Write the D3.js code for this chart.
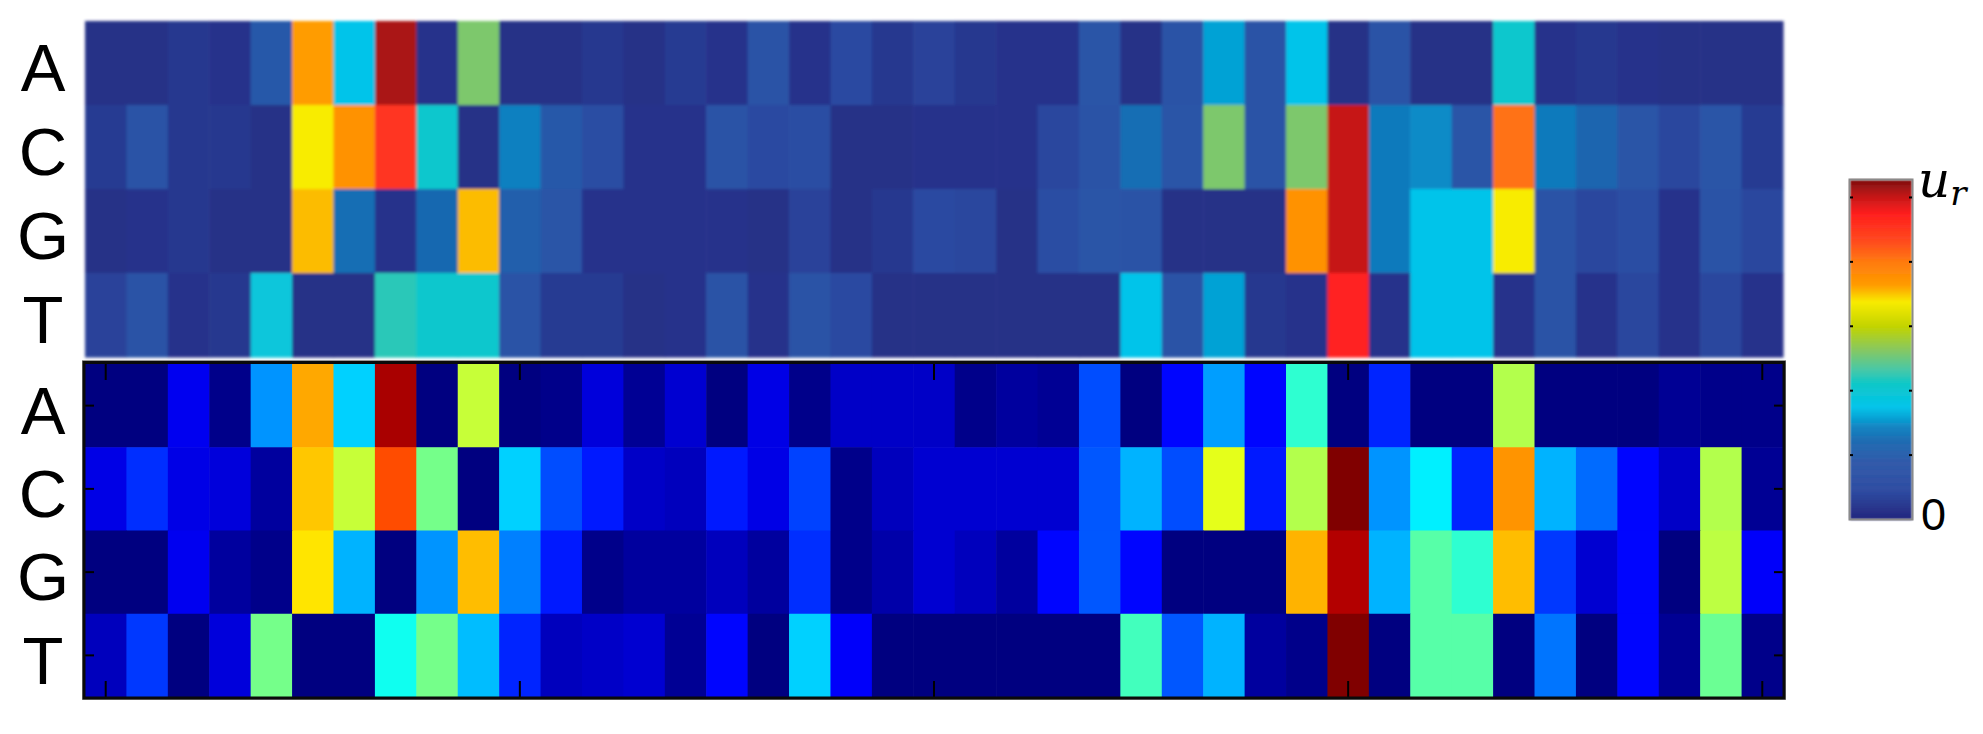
<!DOCTYPE html>
<html>
<head>
<meta charset="utf-8">
<script src="https://cdn.jsdelivr.net/npm/d3@7"></script>
<style>
  html, body { margin: 0; padding: 0; background: #fff; }
  svg { display: block; }
</style>
</head>
<body>
<div id="chart"></div>
<script>
// row labels and sequence positions
const bases = ['A', 'C', 'G', 'T']
const positions = d3.range(1, 42)
const xTickValues = [1, 11, 21, 31, 41]

// top panel (smooth colormap, see colorbar)
const topA = [0.02,0.02,0.04,0.03,0.18,0.69,0.33,0.97,0.03,0.49,0.02,0.02,0.04,0.02,0.05,
              0.03,0.15,0.03,0.10,0.04,0.07,0.04,0.03,0.03,0.16,0.02,0.15,0.30,0.15,0.33,0.02,
              0.15,0.02,0.02,0.39,0.03,0.04,0.03,0.02,0.02,0.02]
const topC = [0.05,0.15,0.04,0.04,0.02,0.64,0.71,0.86,0.39,0.02,0.27,0.18,0.12,0.03,0.03,
              0.15,0.10,0.12,0.02,0.02,0.03,0.03,0.03,0.08,0.15,0.24,0.16,0.49,0.15,0.49,0.95,
              0.26,0.28,0.16,0.77,0.26,0.22,0.16,0.08,0.16,0.05]
const topG = [0.02,0.03,0.04,0.02,0.02,0.67,0.24,0.03,0.23,0.67,0.20,0.16,0.03,0.03,0.03,
              0.03,0.02,0.07,0.02,0.04,0.10,0.08,0.02,0.12,0.16,0.15,0.02,0.02,0.02,0.71,0.95,
              0.26,0.33,0.33,0.64,0.15,0.08,0.12,0.03,0.15,0.08]
const topT = [0.07,0.15,0.03,0.04,0.36,0.02,0.02,0.42,0.39,0.39,0.15,0.05,0.05,0.02,0.03,
              0.15,0.03,0.15,0.10,0.02,0.02,0.02,0.02,0.02,0.02,0.33,0.15,0.30,0.04,0.03,0.90,
              0.03,0.33,0.33,0.03,0.15,0.03,0.08,0.03,0.08,0.03]

// bottom panel (jet)
const botA = [0,0,0.11,0.01,0.27,0.71,0.33,0.96,0,0.57,0,0.01,0.09,0.02,0.08,
              0,0.10,0.01,0.07,0.07,0.07,0.01,0.03,0.02,0.20,0,0.13,0.28,0.13,0.42,0,
              0.16,0,0,0.55,0,0,0,0.02,0.01,0.01]
const botC = [0.10,0.17,0.10,0.09,0.03,0.68,0.57,0.80,0.49,0,0.33,0.20,0.15,0.07,0.06,
              0.15,0.10,0.19,0.01,0.06,0.08,0.08,0.08,0.08,0.21,0.30,0.20,0.60,0.15,0.55,1.0,
              0.27,0.36,0.16,0.73,0.30,0.23,0.13,0.07,0.55,0.02]
const botG = [0,0,0.11,0.03,0.01,0.65,0.30,0,0.27,0.69,0.25,0.15,0.01,0.03,0.03,
              0.06,0.03,0.17,0.01,0.04,0.08,0.06,0.03,0.13,0.21,0.13,0,0,0,0.70,0.95,
              0.30,0.46,0.42,0.69,0.18,0.08,0.13,0,0.56,0.12]
const botT = [0.06,0.18,0,0.09,0.49,0,0,0.39,0.49,0.31,0.16,0.06,0.07,0.08,0.02,
              0.13,0,0.33,0.12,0,0,0,0,0,0,0.44,0.21,0.30,0.03,0.01,1.0,
              0,0.46,0.46,0,0.24,0,0.13,0.02,0.48,0.01]

const topRows = [topA, topC, topG, topT]
const botRows = [botA, botC, botG, botT]

var W = 1983, H = 734
var svg = d3.select('#chart').append('svg')
  .attr('width', W).attr('height', H)

var defs = svg.append('defs')
defs.append('filter').attr('id', 'soft')
  .attr('x', '-1%').attr('y', '-2%').attr('width', '102%').attr('height', '104%')
  .append('feGaussianBlur').attr('stdDeviation', 1.6)
defs.append('filter').attr('id', 'soft2')
  .append('feGaussianBlur').attr('stdDeviation', 0.8)

// colour scales
var topColor = d3.scaleLinear()
  .domain([0, 0.085, 0.17, 0.23, 0.27, 0.33, 0.40, 0.44, 0.50, 0.57, 0.64, 0.69, 0.76, 0.82, 0.90, 0.955, 1])
  .range(['#23287f', '#2a48a0', '#2a56a8', '#1868b0', '#0a80c0', '#00c4ea', '#10c8c8', '#48c8a8',
          '#88c860', '#c4d400', '#f8ec00', '#ff9c00', '#ff7a10', '#ff4a20', '#ff2020', '#c01818', '#7f1010'])
  .interpolate(d3.interpolateRgb)
var jet = d3.scaleLinear()
  .domain([0, 0.125, 0.375, 0.625, 0.875, 1])
  .range(['#000080', '#0000ff', '#00ffff', '#ffff00', '#ff0000', '#800000'])
  .interpolate(d3.interpolateRgb)

// position scales
var x = d3.scaleBand().domain(positions).range([85, 1783])
var yTop = d3.scaleBand().domain(bases).range([21, 357])
var yBot = d3.scaleBand().domain(bases).range([364, 697])

function cells(rows) {
  var out = []
  rows.forEach(function(r, i) {
    r.forEach(function(v, j) { out.push({ base: bases[i], pos: positions[j], v: v }) })
  })
  return out
}

// top heatmap (blurred like the original)
svg.append('g').attr('filter', 'url(#soft)')
  .selectAll('rect').data(cells(topRows)).enter().append('rect')
  .attr('x', function(d) { return x(d.pos) })
  .attr('y', function(d) { return yTop(d.base) })
  .attr('width', x.bandwidth() + 0.6)
  .attr('height', yTop.bandwidth() + 0.6)
  .attr('fill', function(d) { return topColor(d.v) })

// bottom heatmap
var bot = svg.append('g')
bot.selectAll('rect').data(cells(botRows)).enter().append('rect')
  .attr('x', function(d) { return x(d.pos) })
  .attr('y', function(d) { return yBot(d.base) })
  .attr('width', x.bandwidth() + 0.6)
  .attr('height', yBot.bandwidth() + 0.6)
  .attr('fill', function(d) { return jet(d.v) })

// inward ticks on the bottom panel
function inward(g) {
  g.select('.domain').remove()
  g.selectAll('text').remove()
  g.selectAll('line').attr('stroke', '#000').attr('stroke-width', 2)
}
svg.append('g').attr('transform', 'translate(0,697)')
  .call(d3.axisBottom(x).tickValues(xTickValues).tickSize(-16)).call(inward)
svg.append('g').attr('transform', 'translate(0,364)')
  .call(d3.axisTop(x).tickValues(xTickValues).tickSize(-16)).call(inward)
svg.append('g').attr('transform', 'translate(85,0)')
  .call(d3.axisLeft(yBot).tickSize(-9)).call(inward)
svg.append('g').attr('transform', 'translate(1783,0)')
  .call(d3.axisRight(yBot).tickSize(-9)).call(inward)

// frame
svg.append('rect').attr('x', 82.5).attr('y', 360.5).attr('width', 1703).attr('height', 339)
  .attr('fill', 'none').attr('stroke', '#999').attr('stroke-width', 1)
svg.append('rect').attr('x', 84).attr('y', 362.5).attr('width', 1700).attr('height', 335.5)
  .attr('fill', 'none').attr('stroke', '#0a0a0a').attr('stroke-width', 3)

// row labels
;[yTop, yBot].forEach(function(ys) {
  svg.append('g').selectAll('text').data(bases).enter().append('text')
    .attr('x', 43)
    .attr('y', function(d) { return ys(d) + ys.bandwidth() / 2 })
    .attr('dy', '0.42em')
    .attr('text-anchor', 'middle')
    .attr('font-family', '"Liberation Sans", Arial, sans-serif')
    .attr('font-size', 67)
    .attr('fill', '#000')
    .text(function(d) { return d })
})

// colorbar
var cb = d3.scaleLinear().domain([0, 1]).range([519, 180])
var steps = d3.range(0, 1, 1 / 340)
svg.append('g').attr('filter', 'url(#soft2)')
  .selectAll('rect').data(steps).enter().append('rect')
  .attr('x', 1850).attr('width', 62)
  .attr('y', function(d) { return cb(d + 1 / 340) })
  .attr('height', 1.6)
  .attr('fill', function(d) { return topColor(d) })
svg.append('rect').attr('x', 1849.5).attr('y', 179.5).attr('width', 63).attr('height', 340)
  .attr('fill', 'none').attr('stroke', '#8a8a8a').attr('stroke-width', 2)
var cbTicks = [0.19, 0.38, 0.57, 0.76, 0.95]
svg.append('g').attr('transform', 'translate(1850,0)')
  .call(d3.axisLeft(cb).tickValues(cbTicks).tickSize(-3)).call(inward)
svg.append('g').attr('transform', 'translate(1912,0)')
  .call(d3.axisRight(cb).tickValues(cbTicks).tickSize(-3)).call(inward)

var ur = svg.append('text').attr('x', 1918).attr('y', 197)
  .attr('font-family', '"DejaVu Serif", "Liberation Serif", serif')
  .attr('font-style', 'italic').attr('font-size', 50).attr('fill', '#000')
ur.append('tspan').text('u')
ur.append('tspan').attr('font-size', 34).attr('dy', 8).text('r')

svg.append('text').attr('x', 1921).attr('y', 530)
  .attr('font-family', '"Liberation Sans", Arial, sans-serif')
  .attr('font-size', 45).attr('fill', '#000')
  .text('0')
</script>
</body>
</html>
